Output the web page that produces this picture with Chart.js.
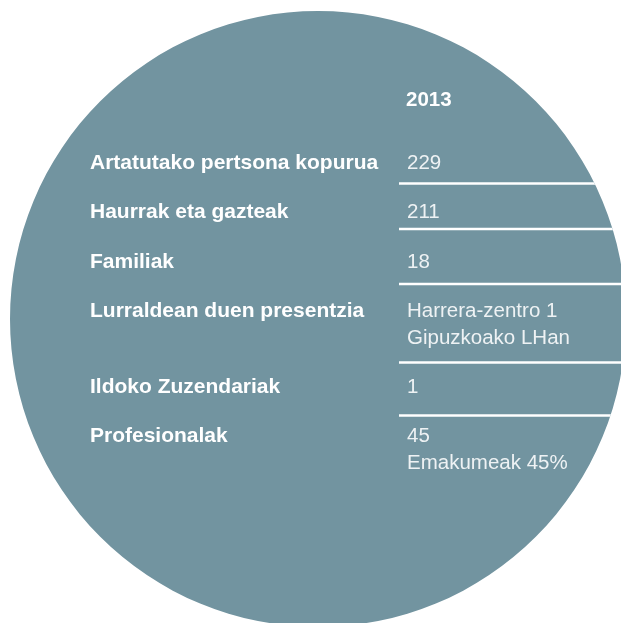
<!DOCTYPE html>
<html>
<head>
<meta charset="utf-8">
<script src="https://cdn.jsdelivr.net/npm/chart.js@4/dist/chart.umd.min.js"></script>
<style>
  html, body { margin: 0; padding: 0; width: 621px; height: 623px; overflow: hidden; background: #ffffff; }
  #wrap { position: absolute; left: 10px; top: 11px; width: 616px; height: 616px; }
</style>
</head>
<body>
<div id="wrap"><canvas id="c" width="616" height="616"></canvas></div>
<script>
// ---- data ----
const headerYear = "2013";
const rowLabels = [
  "Artatutako pertsona kopurua",
  "Haurrak eta gazteak",
  "Familiak",
  "Lurraldean duen presentzia",
  "Ildoko Zuzendariak",
  "Profesionalak"
];
const rowValues = [
  ["229"],
  ["211"],
  ["18"],
  ["Harrera-zentro 1", "Gipuzkoako LHan"],
  ["1"],
  ["45", "Emakumeak 45%"]
];
const circleValues = [1];
const circleColors = ["#7294a0"];

// ---- layout (page coordinates) ----
const OX = 10, OY = 11;               // canvas offset in page
const labelX = 90, valueX = 407, yearX = 406, yearY = 106;
const rowBaselines = [168.5, 218, 268, 316.5, 393, 441.5];
const lineGap = 27;                   // second line of a value
const separatorYs = [183.5, 229, 284, 362.5, 415.5];
const sepStartX = 399;

const tablePlugin = {
  id: 'tablePlugin',
  afterDraw(chart) {
    const ctx = chart.ctx;
    const arc = chart.getDatasetMeta(0).data[0];
    const cx = arc.x, cy = arc.y, r = arc.outerRadius;
    ctx.save();
    ctx.translate(-OX, -OY);
    // header
    ctx.fillStyle = '#ffffff';
    ctx.textBaseline = 'alphabetic';
    ctx.textAlign = 'left';
    ctx.font = 'bold 20.5px "Liberation Sans", Arial, sans-serif';
    ctx.fillText(headerYear, yearX, yearY);
    // labels
    ctx.font = 'bold 21px "Liberation Sans", Arial, sans-serif';
    rowLabels.forEach((t, i) => ctx.fillText(t, labelX, rowBaselines[i]));
    // values
    ctx.font = '20.5px "Liberation Sans", Arial, sans-serif';
    ctx.fillStyle = 'rgba(255,255,255,0.88)';
    rowValues.forEach((lines, i) => {
      lines.forEach((t, j) => ctx.fillText(t, valueX, rowBaselines[i] + j * lineGap));
    });
    ctx.restore();
    // separators, clipped to the circle
    ctx.save();
    ctx.beginPath();
    ctx.arc(cx, cy, r, 0, Math.PI * 2);
    ctx.clip();
    ctx.strokeStyle = '#ffffff';
    ctx.lineWidth = 2.5;
    separatorYs.forEach(y => {
      ctx.beginPath();
      ctx.moveTo(sepStartX - OX, y - OY);
      ctx.lineTo(cx + r + 5, y - OY);
      ctx.stroke();
    });
    ctx.restore();
  }
};

new Chart(document.getElementById('c'), {
  type: 'pie',
  data: {
    labels: [headerYear],
    datasets: [{
      data: circleValues,
      backgroundColor: circleColors,
      borderWidth: 0,
      hoverOffset: 0
    }]
  },
  options: {
    responsive: false,
    animation: false,
    layout: { padding: 0 },
    plugins: { legend: { display: false }, tooltip: { enabled: false } }
  },
  plugins: [tablePlugin]
});
</script>
</body>
</html>
